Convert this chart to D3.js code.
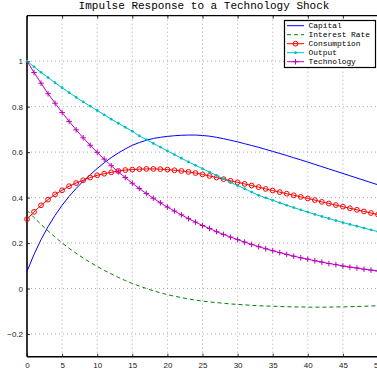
<!DOCTYPE html>
<html>
<head>
<meta charset="utf-8">
<script src="https://cdn.jsdelivr.net/npm/d3@7"></script>
<style>
body { margin: 0; background: #fff; }
</style>
</head>
<body>
<script>
// periods 0..50
var periods = d3.range(0, 51);

var capital = [0.075, 0.15, 0.215, 0.272, 0.322, 0.366, 0.405, 0.44, 0.472, 0.5,
  0.528, 0.553, 0.576, 0.596, 0.614, 0.63, 0.642, 0.652, 0.66, 0.665,
  0.669, 0.672, 0.674, 0.675, 0.675, 0.673, 0.67, 0.665, 0.659, 0.652,
  0.645, 0.637, 0.629, 0.621, 0.612, 0.603, 0.594, 0.585, 0.575, 0.566,
  0.556, 0.546, 0.536, 0.526, 0.516, 0.506, 0.496, 0.486, 0.476, 0.466, 0.456];

var interestRate = [0.344, 0.312, 0.282, 0.253, 0.226, 0.2, 0.177, 0.155, 0.134, 0.115,
  0.097, 0.08, 0.064, 0.049, 0.035, 0.022, 0.011, 0.0, -0.01, -0.019,
  -0.027, -0.034, -0.04, -0.046, -0.051, -0.055, -0.059, -0.062, -0.065, -0.068,
  -0.07, -0.072, -0.074, -0.076, -0.077, -0.078, -0.079, -0.08, -0.081, -0.081,
  -0.082, -0.082, -0.082, -0.082, -0.081, -0.081, -0.08, -0.079, -0.078, -0.077, -0.076];

var consumption = [0.305, 0.337, 0.366, 0.391, 0.414, 0.432, 0.45, 0.464, 0.476, 0.488,
  0.498, 0.505, 0.511, 0.517, 0.521, 0.523, 0.525, 0.526, 0.526, 0.525,
  0.523, 0.52, 0.517, 0.513, 0.508, 0.502, 0.495, 0.488, 0.481, 0.474,
  0.467, 0.46, 0.453, 0.446, 0.438, 0.431, 0.424, 0.417, 0.41, 0.403,
  0.396, 0.389, 0.381, 0.374, 0.367, 0.36, 0.353, 0.346, 0.339, 0.332, 0.325];

var output = [1.0, 0.975, 0.951, 0.928, 0.905, 0.883, 0.862, 0.841, 0.821, 0.802,
  0.783, 0.764, 0.745, 0.727, 0.709, 0.692, 0.671, 0.655, 0.638, 0.622,
  0.605, 0.589, 0.573, 0.557, 0.542, 0.527, 0.512, 0.497, 0.482, 0.467,
  0.453, 0.439, 0.424, 0.41, 0.399, 0.388, 0.377, 0.366, 0.356, 0.346,
  0.336, 0.326, 0.317, 0.308, 0.299, 0.29, 0.282, 0.274, 0.266, 0.258, 0.25];

var technology = [1, 0.95, 0.903, 0.857, 0.815, 0.774, 0.735, 0.698, 0.663, 0.63,
  0.599, 0.569, 0.54, 0.513, 0.488, 0.463, 0.44, 0.418, 0.397, 0.377,
  0.358, 0.341, 0.324, 0.307, 0.292, 0.277, 0.264, 0.25, 0.238, 0.226,
  0.215, 0.204, 0.194, 0.184, 0.175, 0.166, 0.158, 0.15, 0.142, 0.135,
  0.129, 0.122, 0.116, 0.11, 0.105, 0.099, 0.094, 0.09, 0.085, 0.081, 0.077];

var xTicks = d3.range(0, 51, 5);
var yTicks = [-0.2, 0, 0.2, 0.4, 0.6, 0.8, 1];

var series = [
  {name: "Capital", values: capital, color: "#0000ff", dash: null, marker: "none"},
  {name: "Interest Rate", values: interestRate, color: "#008000", dash: "4,3", marker: "none"},
  {name: "Consumption", values: consumption, color: "#ff0000", dash: null, marker: "circle"},
  {name: "Output", values: output, color: "#00bfbf", dash: null, marker: "dot"},
  {name: "Technology", values: technology, color: "#bf00bf", dash: null, marker: "plus"}
];

var W = 377, H = 376;
var plotLeft = 27, plotRight = 378, plotTop = 15.7, plotBottom = 356.7;

var svg = d3.select("body").append("svg")
  .attr("width", W)
  .attr("height", H);

var x = d3.scaleLinear().domain([0, 50]).range([plotLeft, plotRight]);
var y = d3.scaleLinear().domain([-0.3, 1.2]).range([plotBottom, plotTop]);

// grid
svg.append("g").selectAll("line").data(xTicks.slice(1)).enter().append("line")
  .attr("x1", d => x(d)).attr("x2", d => x(d))
  .attr("y1", plotTop).attr("y2", plotBottom)
  .attr("stroke", "#999").attr("stroke-width", 0.8).attr("stroke-dasharray", "1,3");
svg.append("g").selectAll("line").data(yTicks).enter().append("line")
  .attr("x1", plotLeft).attr("x2", plotRight)
  .attr("y1", d => y(d)).attr("y2", d => y(d))
  .attr("stroke", "#999").attr("stroke-width", 0.8).attr("stroke-dasharray", "1,3");

// axes
var xAxis = svg.append("g")
  .attr("transform", "translate(0," + plotBottom + ")")
  .call(d3.axisBottom(x).tickValues(xTicks).tickSize(-3).tickPadding(6).tickFormat(d3.format("d")));
var yAxis = svg.append("g")
  .attr("transform", "translate(" + plotLeft + ",0)")
  .call(d3.axisLeft(y).tickValues(yTicks).tickSize(-3).tickPadding(4)
    .tickFormat(d => d === 0 ? "0" : (d === 1 ? "1" : d3.format(".1f")(d).replace("-", "\u2212"))));
var xTop = svg.append("g")
  .attr("transform", "translate(0," + plotTop + ")")
  .call(d3.axisTop(x).tickValues(xTicks).tickSize(-3).tickFormat(""));

[xAxis, yAxis, xTop].forEach(function(g) {
  g.select(".domain").remove();
  g.selectAll(".tick line").attr("stroke", "#000").attr("stroke-width", 0.8);
  g.selectAll("text").attr("font-family", "Liberation Sans, Arial, sans-serif")
    .attr("font-size", "8px").attr("fill", "#222");
});

// frame
svg.append("line").attr("x1", plotLeft).attr("x2", plotRight).attr("y1", plotBottom).attr("y2", plotBottom)
  .attr("stroke", "#000").attr("stroke-width", 1.6);
svg.append("line").attr("x1", plotLeft).attr("x2", plotRight).attr("y1", plotTop).attr("y2", plotTop)
  .attr("stroke", "#000").attr("stroke-width", 1.2);
svg.append("line").attr("x1", plotLeft).attr("x2", plotLeft).attr("y1", plotTop).attr("y2", plotBottom)
  .attr("stroke", "#000").attr("stroke-width", 1.6);

var line = d3.line().x((d, i) => x(periods[i])).y(d => y(d));

function drawMarkers(g, s, pts) {
  if (s.marker === "circle") {
    g.selectAll("circle").data(pts).enter().append("circle")
      .attr("cx", d => d[0]).attr("cy", d => d[1]).attr("r", 2.4)
      .attr("fill", "none").attr("stroke", s.color).attr("stroke-width", 1);
  } else if (s.marker === "dot") {
    g.selectAll("circle").data(pts).enter().append("circle")
      .attr("cx", d => d[0]).attr("cy", d => d[1]).attr("r", 1.4)
      .attr("fill", s.color);
  } else if (s.marker === "plus") {
    g.selectAll("path").data(pts).enter().append("path")
      .attr("d", d => "M" + (d[0] - 2.8) + "," + d[1] + "h5.6M" + d[0] + "," + (d[1] - 2.8) + "v5.6")
      .attr("stroke", s.color).attr("stroke-width", 1);
  }
}

series.forEach(function(s) {
  var g = svg.append("g");
  g.append("path").datum(s.values)
    .attr("d", line)
    .attr("fill", "none")
    .attr("stroke", s.color)
    .attr("stroke-width", 1)
    .attr("stroke-dasharray", s.dash);
  var pts = s.values.map((v, i) => [x(periods[i]), y(v)]);
  drawMarkers(g, s, pts);
});

// title
svg.append("text")
  .attr("x", 204).attr("y", 9)
  .attr("text-anchor", "middle")
  .attr("font-family", "Liberation Mono, Courier New, monospace")
  .attr("font-size", "11px")
  .attr("fill", "#000")
  .text("Impulse Response to a Technology Shock");

// legend
var lg = svg.append("g");
lg.append("rect").attr("x", 284.5).attr("y", 20.5).attr("width", 91).attr("height", 47)
  .attr("fill", "#fff").attr("stroke", "#000").attr("stroke-width", 1.2);
series.forEach(function(s, i) {
  var cy = 25.7 + i * 9;
  lg.append("line").attr("x1", 287).attr("x2", 304).attr("y1", cy).attr("y2", cy)
    .attr("stroke", s.color).attr("stroke-width", 1).attr("stroke-dasharray", s.dash);
  drawMarkers(lg.append("g"), s, [[295.5, cy]]);
  lg.append("text").attr("x", 308.5).attr("y", cy + 2.6)
    .attr("font-family", "Liberation Mono, Courier New, monospace")
    .attr("font-size", "7.9px").attr("fill", "#000")
    .text(s.name);
});
</script>
</body>
</html>
